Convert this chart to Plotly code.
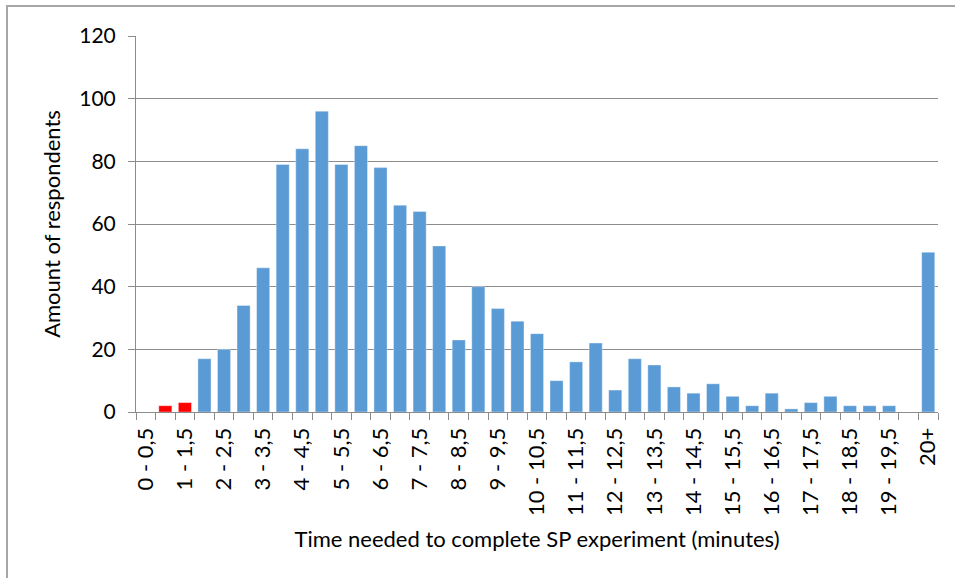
import plotly.graph_objects as go

categories = ["0 - 0,5", "0,5 - 1", "1 - 1,5", "1,5 - 2", "2 - 2,5", "2,5 - 3", "3 - 3,5", "3,5 - 4",
              "4 - 4,5", "4,5 - 5", "5 - 5,5", "5,5 - 6", "6 - 6,5", "6,5 - 7", "7 - 7,5", "7,5 - 8",
              "8 - 8,5", "8,5 - 9", "9 - 9,5", "9,5 - 10", "10 - 10,5", "10,5 - 11", "11 - 11,5",
              "11,5 - 12", "12 - 12,5", "12,5 - 13", "13 - 13,5", "13,5 - 14", "14 - 14,5", "14,5 - 15",
              "15 - 15,5", "15,5 - 16", "16 - 16,5", "16,5 - 17", "17 - 17,5", "17,5 - 18", "18 - 18,5",
              "18,5 - 19", "19 - 19,5", "19,5 - 20", "20+"]
values = [0, 2, 3, 17, 20, 34, 46, 79, 84, 96, 79, 85, 78, 66, 64, 53, 23, 40, 33, 29, 25, 10, 16,
          22, 7, 17, 15, 8, 6, 9, 5, 2, 6, 1, 3, 5, 2, 2, 2, 0, 51]
# categories highlighted in red (too fast)
flagged = ["0,5 - 1", "1 - 1,5"]
shown_labels = categories[0::2]

y_ticks = [0, 20, 40, 60, 80, 100, 120]

BLUE = "#5B9BD5"
RED = "#FF0000"
colors = [RED if c in flagged else BLUE for c in categories]

FONT = "Lato"

fig = go.Figure()
fig.add_trace(go.Bar(
    x=categories, y=values,
    marker=dict(color=colors, line=dict(color="rgba(255,255,255,0.6)", width=0.6)),
    hoverinfo="x+y",
))

W, H = 955, 578
L, R, T, B = 136, 17, 36, 166
pw = W - L - R
ph = H - T - B

def px_x(px):
    return (px - L) / pw

def px_y(py):
    return (H - B - py) / ph

fig.update_layout(
    width=W, height=H,
    margin=dict(l=L, r=R, t=T, b=B),
    paper_bgcolor="white", plot_bgcolor="white",
    bargap=0.33,
    showlegend=False,
    font=dict(family=FONT, size=22, color="#000000"),
    xaxis=dict(
        type="category",
        categoryorder="array", categoryarray=categories,
        tickmode="array", tickvals=categories,
        ticktext=[c if c in shown_labels else "" for c in categories],
        tickson="boundaries",
        tickangle=-90,
        ticks="outside", ticklen=7, tickcolor="#8c8c8c", tickwidth=1,
        showline=True, linecolor="#8c8c8c", linewidth=1,
        showgrid=False,
        tickfont=dict(family=FONT, size=22),
        ticklabelstandoff=6,
        title=dict(text="Time needed to complete SP experiment (minutes)",
                   font=dict(family=FONT, size=22), standoff=16),
        automargin=False,
    ),
    yaxis=dict(
        range=[0, 120],
        tickmode="array", tickvals=y_ticks,
        ticks="outside", ticklen=7, tickcolor="#8c8c8c", tickwidth=1,
        showline=True, linecolor="#8c8c8c", linewidth=1,
        showgrid=True, gridcolor="#8c8c8c", gridwidth=1,
        zeroline=False,
        tickfont=dict(family=FONT, size=21),
        ticklabelstandoff=8,
        title=dict(text="Amount of respondents", font=dict(family=FONT, size=22), standoff=12),
        automargin=False,
    ),
    shapes=[dict(
        type="rect", xref="paper", yref="paper",
        x0=px_x(7), x1=px_x(965), y0=px_y(590), y1=px_y(6),
        line=dict(color="#a6a6a6", width=2), fillcolor="rgba(0,0,0,0)", layer="below",
    )],
)

fig.write_html("out.html")
